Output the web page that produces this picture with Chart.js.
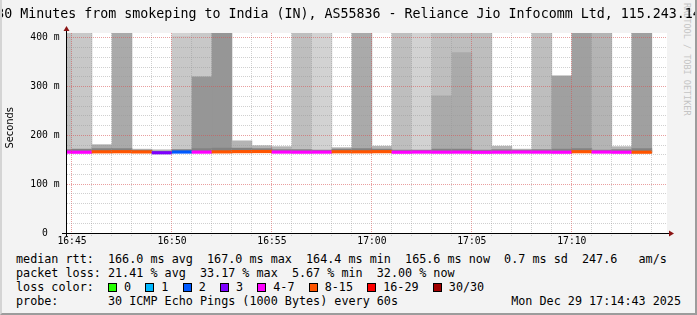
<!DOCTYPE html>
<html lang="en">
<head>
<meta charset="UTF-8">
<title>Smokeping - India (IN), AS55836</title>
<script src="https://cdn.jsdelivr.net/npm/chart.js@4.4.0/dist/chart.umd.min.js"></script>
<style>
    body {
        margin: 0;
        background: #f3f3f3;
    }

    #page {
        position: relative;
        width: 697px;
        height: 315px;
        overflow: hidden;
        background: #f3f3f3;
        font-family: 'DejaVu Sans Mono', monospace;
        color: #000;
    }

    #page::after {
        content: '';
        position: absolute;
        left: 0; top: 0; right: 0; bottom: 0;
        border-left: 2px solid #d4d4d4;
        border-right: 2px solid #9c9c9c;
        border-bottom: 2px solid #9c9c9c;
        pointer-events: none;
    }

    #chart {
        position: absolute;
        left: 0;
        top: 0;
    }

    #wm {
        position: absolute;
        left: 682px;
        top: 3px;
        writing-mode: vertical-rl;
        font-size: 8.5px;
        line-height: 9px;
        color: #c4c4c4;
        white-space: nowrap;
    }

    #title {
        position: absolute;
        top: 6px;
        left: 50%;
        transform: translateX(-50%);
        font-size: 13.3px;
        line-height: 15px;
        white-space: nowrap;
    }

    #ylabel {
        position: absolute;
        left: 4px;
        top: 107px;
        writing-mode: vertical-rl;
        transform: rotate(180deg);
        font-family: 'DejaVu Sans', sans-serif;
        font-size: 9.9px;
        line-height: 12px;
        white-space: nowrap;
    }

    #legend {
        position: absolute;
        left: 16px;
        right: 16px;
        top: 252px;
        font-size: 11.76px;
        line-height: 14px;
    }

    .row { position: relative; height: 14px; white-space: pre; }
    .row .r { position: absolute; right: 0; top: 0; }

    .sw {
        display: inline-block;
        width: 7px;
        height: 7px;
        border: 1px solid #000;
        vertical-align: -1px;
    }
</style>
</head>
<body>
<div id="page">
    <div id="wm">RRDTOOL / TOBI OETIKER</div>
    <canvas id="chart" width="697" height="250"></canvas>
    <div id="title">30 Minutes from smokeping to India (IN), AS55836 - Reliance Jio Infocomm Ltd, 115.243.14</div>
    <div id="ylabel">Seconds</div>
    <div id="legend">
        <div class="row">median rtt:  166.0 ms avg  167.0 ms max  164.4 ms min  165.6 ms now  0.7 ms sd  247.6   am/s</div>
        <div class="row">packet loss: 21.41 % avg  33.17 % max  5.67 % min  32.00 % now</div>
        <div class="row">loss color:  <span class="sw" style="background:#26ff00"></span> 0  <span class="sw" style="background:#00b8ff"></span> 1  <span class="sw" style="background:#0059ff"></span> 2  <span class="sw" style="background:#7e00ff"></span> 3  <span class="sw" style="background:#ff00ff"></span> 4-7  <span class="sw" style="background:#ff5500"></span> 8-15  <span class="sw" style="background:#ff0000"></span> 16-29  <span class="sw" style="background:#a10000"></span> 30/30</div>
        <div class="row">probe:       30 ICMP Echo Pings (1000 Bytes) every 60s<span class="r">Mon Dec 29 17:14:43 2025</span></div>
    </div>
</div>

<script>
    // minutes after 16:45; bin -1 is the tail end of 16:44
    const binStart = [-1, 0, 1, 2, 3, 4, 5, 6, 7, 8, 9, 10, 11, 12, 13, 14, 15, 16, 17, 18, 19, 20, 21, 22, 23, 24, 25, 26, 27, 28];
    // median rtt (ms)
    const median = [165.8, 165.6, 166.4, 166.6, 166.2, 164.4, 166.0, 165.8, 166.3, 166.8, 167.0, 165.9, 165.7, 165.8, 166.5,
                    166.4, 166.7, 165.6, 165.9, 165.7, 165.8, 165.5, 165.7, 165.9, 165.8, 165.6, 166.6, 165.9, 165.6, 165.6];
    // lost pings out of 30
    const lossPings = [5, 6.5, 9, 8.5, 8.2, 3, 1.7, 7, 9.95, 8.3, 8.1, 5.5, 7.4, 6, 8.4,
                       9.2, 8, 4.5, 5, 6.3, 5.8, 5.2, 4.6, 4.2, 5.4, 6.8, 8.6, 5.2, 4.8, 9.6];
    // dense smoke just above the median (ms)
    const coreTop = [171, 172, 173, 173, 170, 168, 171, 173, 174, 174, 173, 171, 171, 170, 172,
                     173, 172, 170, 170, 172, 172, 170, 171, 170, 171, 172, 173, 170, 171, 173];
    // top of the smoke (ms), 420 = beyond the top of the graph
    const smokeTop = [420, 420, 181, 420, 172, 171, 420, 420, 420, 189, 179, 177, 420, 420, 175,
                      420, 178, 420, 420, 420, 420, 420, 178, 172, 420, 322, 420, 420, 177, 420];
    const topPings = [3, 2, 5, 5, 3, 2, 1, 2, 7, 4, 4, 4, 3, 1, 4,
                      5, 4, 3, 1, 3, 3, 3, 4, 3, 3, 6, 6, 4, 4, 6];
    // denser lower part of the smoke (ms)
    const smokeBreak = [null, null, null, null, null, null, 403, 320, null, null, null, null, null, null, null,
                        null, null, null, null, 281, 370, null, null, null, null, null, null, null, null, null];
    const breakPings = [0, 0, 0, 0, 0, 0, 2, 7, 0, 0, 0, 0, 0, 0, 0,
                        0, 0, 0, 0, 5, 5, 0, 0, 0, 0, 0, 0, 0, 0, 0];

    const xTickLabels = ['16:45', '16:50', '16:55', '17:00', '17:05', '17:10'];
    const yTickLabels = ['0  ', '100 m', '200 m', '300 m', '400 m'];

    const lossFrom = [0, 1, 2, 3, 4, 8, 16, 30];
    const lossColors = ['#26ff00', '#00b8ff', '#0059ff', '#7e00ff', '#ff00ff', '#ff5500', '#ff0000', '#a10000'];

    function lossColor(n) {
        n = Math.round(n);
        let c = lossColors[0];
        lossFrom.forEach((lo, i) => { if (n >= lo) c = lossColors[i]; });
        return c;
    }

    function smokeGray(n) {
        const g = 220 - 10 * n;
        return 'rgb(' + g + ',' + g + ',' + g + ')';
    }

    const MAJOR = 'rgba(215, 80, 80, 0.55)';
    const MINOR = 'rgba(150, 150, 150, 0.45)';
    const FONT = { family: "'DejaVu Sans Mono', monospace", size: 9.7 };

    const mid = i => binStart[i] + 0.5;
    const bar = { grouped: false, barPercentage: 1, categoryPercentage: 1, borderWidth: 0, clip: 0 };
    const lowerIdx = binStart.map((b, i) => i).filter(i => smokeBreak[i] !== null);

    const frame = {
        id: 'frame',
        beforeDraw(chart) {
            const { ctx, chartArea: a } = chart;
            ctx.save();
            ctx.fillStyle = '#ffffff';
            ctx.fillRect(a.left, a.top, a.right - a.left, a.bottom - a.top);
            ctx.restore();
        },
        afterDraw(chart) {
            const { ctx, chartArea: a } = chart;
            ctx.save();
            ctx.strokeStyle = '#000';
            ctx.lineWidth = 1;
            ctx.beginPath();
            ctx.moveTo(a.left - 5, a.bottom + 0.5);
            ctx.lineTo(a.right + 3, a.bottom + 0.5);
            ctx.moveTo(a.left - 0.5, a.bottom + 3);
            ctx.lineTo(a.left - 0.5, a.top - 3);
            ctx.stroke();
            ctx.fillStyle = '#8b1414';
            ctx.beginPath();
            ctx.moveTo(a.right + 7, a.bottom + 0.5);
            ctx.lineTo(a.right + 2, a.bottom - 2.5);
            ctx.lineTo(a.right + 2, a.bottom + 3.5);
            ctx.fill();
            ctx.beginPath();
            ctx.moveTo(a.left - 0.5, a.top - 7);
            ctx.lineTo(a.left - 3.5, a.top - 2);
            ctx.lineTo(a.left + 2.5, a.top - 2);
            ctx.fill();
            ctx.restore();
        }
    };

    new Chart(document.getElementById('chart'), {
        type: 'bar',
        data: {
            datasets: [
                {
                    ...bar, label: 'median rtt',
                    data: median.map((m, i) => ({ x: mid(i), y: [m - 2.6, m + 2.6] })),
                    backgroundColor: lossPings.map(lossColor)
                },
                {
                    ...bar, label: 'core',
                    data: coreTop.map((t, i) => ({ x: mid(i), y: [median[i], t] })),
                    backgroundColor: smokeGray(9)
                },
                {
                    ...bar, label: 'smoke lower',
                    data: lowerIdx.map(i => ({ x: mid(i), y: [median[i], smokeBreak[i]] })),
                    backgroundColor: lowerIdx.map(i => smokeGray(breakPings[i]))
                },
                {
                    ...bar, label: 'smoke',
                    data: smokeTop.map((t, i) => ({ x: mid(i), y: [median[i], t] })),
                    backgroundColor: topPings.map(smokeGray)
                }
            ]
        },
        options: {
            responsive: false,
            devicePixelRatio: 1,
            animation: false,
            events: [],
            layout: { padding: { left: 0, top: 33, right: 30, bottom: 0 } },
            plugins: { legend: { display: false }, tooltip: { enabled: false } },
            scales: {
                x: {
                    type: 'linear',
                    min: -0.25,
                    max: 29.76,
                    offset: false,
                    grid: {
                        offset: false, z: 1,
                        color: c => (c.tick && c.tick.value % 5 === 0 ? MAJOR : MINOR),
                        tickColor: c => (c.tick && c.tick.value % 5 === 0 ? MAJOR : MINOR),
                        drawTicks: true, tickLength: 3, tickBorderDash: [1, 1]
                    },
                    border: { display: false, dash: [1, 1] },
                    ticks: {
                        stepSize: 1, autoSkip: false, maxRotation: 0, includeBounds: false,
                        padding: 0, color: '#000', font: FONT,
                        callback: v => (v % 5 === 0 ? xTickLabels[v / 5] : '')
                    },
                    afterFit: s => { s.height = 17; }
                },
                y: {
                    min: 0,
                    max: 410,
                    grid: {
                        z: 1,
                        color: c => (c.tick && c.tick.value % 100 === 0 ? MAJOR : MINOR),
                        drawTicks: false
                    },
                    border: { display: false, dash: [1, 1] },
                    ticks: {
                        stepSize: 20, autoSkip: false, includeBounds: false, padding: 7.5, color: '#000', font: FONT,
                        callback: v => (v % 100 === 0 ? yTickLabels[v / 100] : '')
                    },
                    afterFit: s => { s.width = 67; }
                }
            }
        },
        plugins: [frame]
    });
</script>
</body>
</html>
